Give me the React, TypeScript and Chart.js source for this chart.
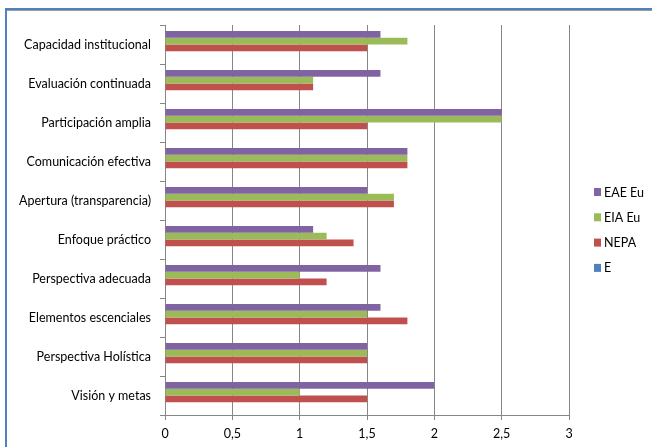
import React, { useEffect, useRef } from "react";
import { Chart, registerables } from "chart.js";

Chart.register(...registerables);

const categories = [
  "Capacidad institucional",
  "Evaluación continuada",
  "Participación amplia",
  "Comunicación efectiva",
  "Apertura (transparencia)",
  "Enfoque práctico",
  "Perspectiva adecuada",
  "Elementos escenciales",
  "Perspectiva Holística",
  "Visión y metas",
];

const eaeEu = [1.6, 1.6, 2.5, 1.8, 1.5, 1.1, 1.6, 1.6, 1.5, 2.0];
const eiaEu = [1.8, 1.1, 2.5, 1.8, 1.7, 1.2, 1.0, 1.5, 1.5, 1.0];
const nepa = [1.5, 1.1, 1.5, 1.8, 1.7, 1.4, 1.2, 1.8, 1.5, 1.5];
const eSeries = [0, 0, 0, 0, 0, 0, 0, 0, 0, 0];

const seriesLabels = ["EAE Eu", "EIA Eu", "NEPA", "E"];
const seriesColors = ["#8064A2", "#9BBB59", "#C0504D", "#4F81BD"];

const xTickValues = [0, 0.5, 1, 1.5, 2, 2.5, 3];
const xTickLabels = ["0", "0,5", "1", "1,5", "2", "2,5", "3"];

const FONT = "Lato, 'Noto Sans', sans-serif";

const legendPlugin = {
  id: "excelLegend",
  afterDraw(chart: any) {
    const ctx = chart.ctx;
    const area = chart.chartArea;
    const x0 = area.right + 25;
    const y0 = area.top + 167;
    const step = 25.3;
    ctx.save();
    ctx.font = `12.5px ${FONT}`;
    ctx.textBaseline = "middle";
    ctx.textAlign = "left";
    chart.data.datasets.forEach((ds: any, i: number) => {
      const cy = y0 + i * step;
      ctx.fillStyle = ds.backgroundColor;
      ctx.fillRect(x0, cy - 4, 7, 8);
      ctx.fillStyle = "#000";
      ctx.fillText(ds.label, x0 + 10, cy + 0.5);
    });
    ctx.restore();
  },
};

export default function App() {
  const ref = useRef<HTMLCanvasElement | null>(null);

  useEffect(() => {
    if (!ref.current) return;
    const data = [eaeEu, eiaEu, nepa, eSeries];
    const chart = new Chart(ref.current, {
      type: "bar",
      data: {
        labels: categories,
        datasets: seriesLabels.map((label, i) => ({
          label,
          data: data[i],
          backgroundColor: seriesColors[i],
          borderWidth: 0,
          categoryPercentage: 0.69,
          barPercentage: 1,
        })),
      },
      plugins: [legendPlugin],
      options: {
        indexAxis: "y",
        animation: false,
        responsive: false,
        maintainAspectRatio: false,
        layout: { padding: { left: 0, right: 83, top: 25, bottom: 0 } },
        plugins: {
          legend: { display: false },
          tooltip: { enabled: false },
        },
        scales: {
          x: {
            min: 0,
            max: 3,
            afterBuildTicks: (scale: any) => {
              scale.ticks = xTickValues.map((v) => ({ value: v }));
            },
            afterFit: (scale: any) => {
              scale.height = 32;
            },
            grid: {
              color: "#868686",
              lineWidth: 1,
              tickLength: 5,
              drawTicks: true,
            },
            border: { display: true, color: "#868686" },
            ticks: {
              padding: 6,
              color: "#000",
              font: { family: FONT, size: 12.5 },
              callback: (_v: any, i: number) => xTickLabels[i],
            },
          },
          y: {
            afterFit: (scale: any) => {
              scale.width = 165;
            },
            grid: {
              offset: true,
              drawOnChartArea: false,
              color: "#868686",
              tickLength: 5,
            },
            border: { display: true, color: "#868686" },
            ticks: {
              padding: 9,
              color: "#000",
              font: { family: FONT, size: 12.5 },
            },
          },
        },
      },
    } as any);
    return () => chart.destroy();
  }, []);

  return (
    <div
      style={{
        position: "fixed",
        left: 0,
        top: 0,
        width: 652,
        height: 447,
        overflow: "hidden",
        background: "#fff",
      }}
    >
      <div
        style={{
          position: "absolute",
          left: 5,
          top: 8,
          width: 900,
          height: 900,
          borderLeft: "2px solid #4F81BD",
          borderTop: "2px solid #4F81BD",
          boxShadow: "inset 0 1px 0 #9a9a9a",
        }}
      />
      <canvas
        ref={ref}
        width={652}
        height={447}
        style={{ position: "absolute", left: 0, top: 0, width: 652, height: 447 }}
      />
    </div>
  );
}
